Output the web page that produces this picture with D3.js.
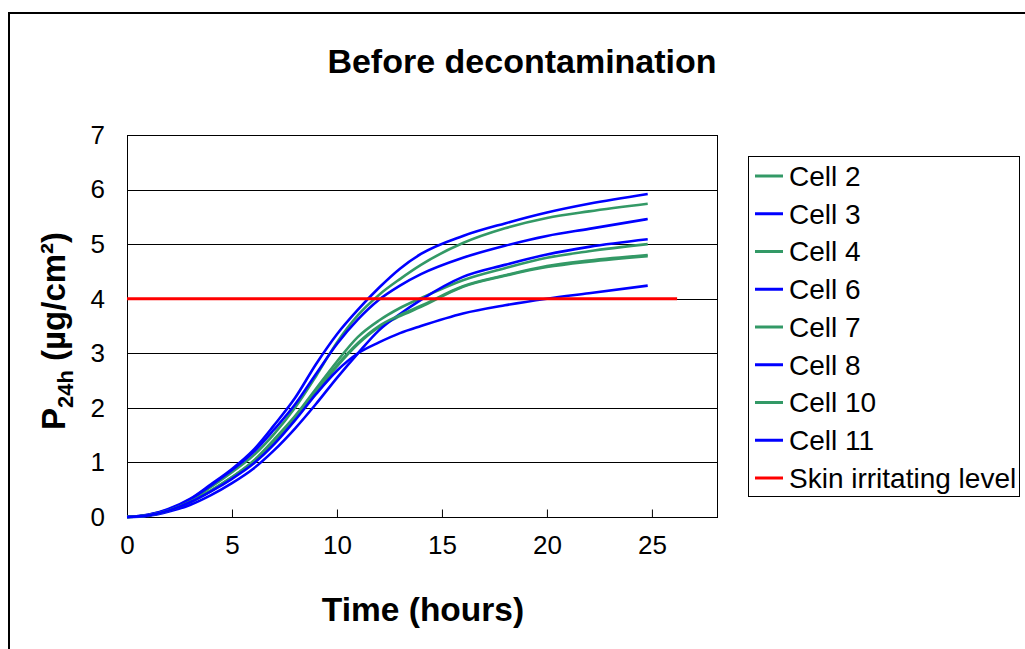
<!DOCTYPE html>
<html>
<head>
<meta charset="utf-8">
<script src="https://cdn.jsdelivr.net/npm/d3@7"></script>
<style>
  html, body { margin: 0; padding: 0; background: #fff; }
  svg { display: block; font-family: "Liberation Sans", Arial, sans-serif; }
</style>
</head>
<body>
<svg id="chart" width="1025" height="649"></svg>
<script>
// Sampling times (hours)
const times = [0, 1, 2, 3, 4, 5, 6, 7, 8, 9, 10, 11, 12, 13, 14, 16, 18, 20, 22, 24.8];

// Permeation P24h (µg/cm²) per cell
const cell2  = [0, 0.03, 0.13, 0.30, 0.55, 0.82, 1.12, 1.52, 2.00, 2.58, 3.20, 3.70, 4.07, 4.36, 4.62, 5.02, 5.29, 5.48, 5.60, 5.74];
const cell3  = [0, 0.04, 0.15, 0.33, 0.60, 0.88, 1.22, 1.68, 2.18, 2.80, 3.35, 3.80, 4.20, 4.55, 4.82, 5.15, 5.38, 5.58, 5.74, 5.92];
const cell4  = [0, 0.03, 0.12, 0.27, 0.48, 0.73, 1.02, 1.42, 1.85, 2.35, 2.85, 3.30, 3.60, 3.83, 4.01, 4.34, 4.56, 4.75, 4.87, 5.00];
const cell6  = [0, 0.04, 0.14, 0.32, 0.58, 0.86, 1.18, 1.60, 2.06, 2.62, 3.17, 3.62, 3.98, 4.24, 4.45, 4.75, 4.97, 5.15, 5.28, 5.46];
const cell7  = [0, 0.03, 0.12, 0.27, 0.48, 0.72, 1.00, 1.38, 1.80, 2.28, 2.76, 3.17, 3.48, 3.68, 3.85, 4.22, 4.42, 4.58, 4.68, 4.78];
const cell8  = [0, 0.02, 0.10, 0.22, 0.40, 0.62, 0.88, 1.22, 1.62, 2.07, 2.55, 3.00, 3.42, 3.72, 3.98, 4.40, 4.62, 4.81, 4.95, 5.09];
const cell10 = [0, 0.03, 0.12, 0.28, 0.49, 0.73, 1.01, 1.40, 1.82, 2.30, 2.78, 3.19, 3.50, 3.70, 3.87, 4.23, 4.43, 4.60, 4.70, 4.80];
const cell11 = [0, 0.03, 0.12, 0.27, 0.47, 0.70, 0.97, 1.33, 1.77, 2.25, 2.68, 3.00, 3.20, 3.37, 3.50, 3.73, 3.88, 4.00, 4.10, 4.24];

// Skin irritating level (constant threshold)
const irritationTimes = [0, 26.2];
const irritationLevel = [4, 4];

const seriesNames  = ["Cell 2", "Cell 3", "Cell 4", "Cell 6", "Cell 7", "Cell 8", "Cell 10", "Cell 11"];
const seriesValues = [cell2, cell3, cell4, cell6, cell7, cell8, cell10, cell11];
const seriesColors = ["#339966", "#0000ff", "#339966", "#0000ff", "#339966", "#0000ff", "#339966", "#0000ff"];

const xTicks = [0, 5, 10, 15, 20, 25];
const yTicks = [0, 1, 2, 3, 4, 5, 6, 7];

const svg = d3.select("#chart");

// outer chart frame
svg.append("rect")
  .attr("x", 9).attr("y", 13).attr("width", 1100).attr("height", 700)
  .attr("fill", "none").attr("stroke", "#000").attr("stroke-width", 2);

const plot = { left: 127, right: 717, top: 135, bottom: 517 };

const x = d3.scaleLinear().domain([0, 28.1]).range([plot.left, plot.right]);
const y = d3.scaleLinear().domain([0, 7]).range([plot.bottom, plot.top]);

// horizontal gridlines
svg.append("g")
  .selectAll("line")
  .data(yTicks)
  .join("line")
  .attr("x1", plot.left).attr("x2", plot.right)
  .attr("y1", d => Math.round(y(d)) + 0.5).attr("y2", d => Math.round(y(d)) + 0.5)
  .attr("stroke", "#000").attr("stroke-width", 1);

// plot border
svg.append("rect")
  .attr("x", plot.left + 0.5).attr("y", plot.top + 0.5)
  .attr("width", plot.right - plot.left).attr("height", plot.bottom - plot.top)
  .attr("fill", "none").attr("stroke", "#000").attr("stroke-width", 1);

// x axis (inside ticks)
const xAxis = svg.append("g")
  .attr("transform", `translate(0,${plot.bottom + 0.5})`)
  .call(d3.axisBottom(x).tickValues(xTicks).tickSizeInner(-8).tickSizeOuter(0).tickPadding(18));
xAxis.select(".domain").remove();
xAxis.selectAll(".tick line").attr("stroke", "#000");
xAxis.selectAll("text")
  .attr("font-size", 26).attr("fill", "#000")
  .attr("font-family", "'Liberation Sans', Arial, sans-serif");

// y axis labels
const yAxis = svg.append("g")
  .attr("transform", `translate(${plot.left},0)`)
  .call(d3.axisLeft(y).tickValues(yTicks).tickFormat(d3.format("d")).tickSize(0).tickPadding(22));
yAxis.select(".domain").remove();
yAxis.selectAll("text")
  .attr("font-size", 26).attr("fill", "#000")
  .attr("font-family", "'Liberation Sans', Arial, sans-serif");

// series lines
const line = d3.line()
  .x(d => x(d[0]))
  .y(d => y(d[1]))
  .curve(d3.curveMonotoneX);

const lines = svg.append("g");
seriesValues.forEach((vals, i) => {
  lines.append("path")
    .datum(times.map((t, k) => [t, vals[k]]))
    .attr("d", line)
    .attr("fill", "none")
    .attr("stroke", seriesColors[i])
    .attr("stroke-width", 2.6)
    .attr("stroke-linejoin", "round");
});

// irritation threshold
svg.append("path")
  .datum(irritationTimes.map((t, k) => [t, irritationLevel[k]]))
  .attr("d", d3.line().x(d => x(d[0])).y(d => y(d[1])))
  .attr("stroke", "#ff0000").attr("stroke-width", 3).attr("fill", "none");

// title
svg.append("text")
  .attr("x", 522).attr("y", 73)
  .attr("text-anchor", "middle")
  .attr("font-size", 34).attr("font-weight", "bold")
  .text("Before decontamination");

// x axis title
svg.append("text")
  .attr("x", 423).attr("y", 621)
  .attr("text-anchor", "middle")
  .attr("font-size", 33.5).attr("font-weight", "bold")
  .text("Time (hours)");

// y axis title
const yTitle = svg.append("text")
  .attr("transform", "translate(65,331) rotate(-90)")
  .attr("text-anchor", "middle")
  .attr("font-size", 33).attr("font-weight", "bold");
yTitle.append("tspan").text("P");
yTitle.append("tspan").attr("font-size", 22).attr("dy", 8).text("24h");
yTitle.append("tspan").attr("dy", -8).text(" (µg/cm²)");

// legend
const legendNames = seriesNames.concat(["Skin irritating level"]);
const legendColors = seriesColors.concat(["#ff0000"]);
const legend = svg.append("g");
legend.append("rect")
  .attr("x", 748.5).attr("y", 156.5).attr("width", 271).attr("height", 340)
  .attr("fill", "#fff").attr("stroke", "#000").attr("stroke-width", 1);
const item = legend.selectAll("g.item")
  .data(legendNames)
  .join("g")
  .attr("class", "item")
  .attr("transform", (d, i) => `translate(0,${176 + i * 37.75})`);
item.append("line")
  .attr("x1", 755).attr("x2", 783)
  .attr("stroke", (d, i) => legendColors[i]).attr("stroke-width", 3);
item.append("text")
  .attr("x", 789).attr("y", 0).attr("dy", "0.35em")
  .attr("font-size", 28)
  .text(d => d);
</script>
</body>
</html>
